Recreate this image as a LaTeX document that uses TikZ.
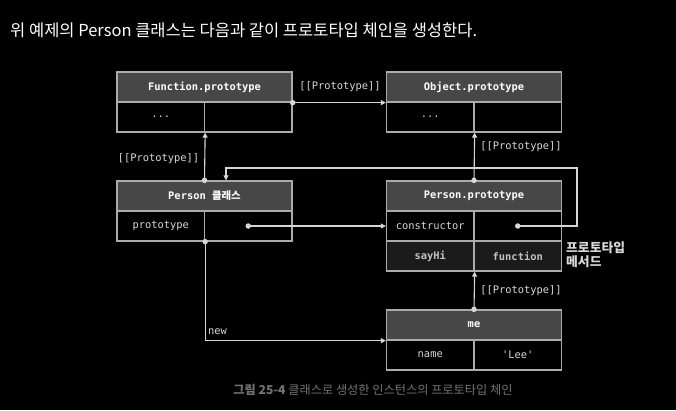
\documentclass[tikz,border=0pt]{standalone}
\usepackage{fontspec}
\usetikzlibrary{arrows.meta}
\newfontfamily\kr{Noto Sans CJK KR}
\newfontfamily\monofam{DejaVu Sans Mono}
\definecolor{hdrfill}{HTML}{474747}
\definecolor{boxline}{HTML}{ABABAB}
\definecolor{connline}{HTML}{D6D6D6}
\definecolor{celltext}{HTML}{D8D8D8}
\definecolor{methfill}{HTML}{1B1B1B}
\definecolor{methtext}{HTML}{C4C4C4}
\definecolor{captext}{HTML}{727272}
\newcommand{\mono}{\monofam\fontsize{10.4}{12}\selectfont}
\newcommand{\monob}{\monofam\bfseries\fontsize{10.4}{12}\selectfont}
\tikzset{
  hdr/.style={draw=boxline, fill=hdrfill, line width=1.3pt, minimum width=175pt, minimum height=30pt, inner sep=0pt, text=white, font=\monob},
  cell/.style={draw=boxline, line width=1.3pt, minimum width=87.5pt, minimum height=30pt, inner sep=0pt, text=celltext, font=\mono},
  mcell/.style={cell, fill=methfill, text=methtext, font=\monob},
  conn/.style={draw=connline, line width=1.1pt},
  arr/.style={conn, -{Triangle[length=5pt,width=5pt]}},
  dotn/.style={circle, fill=connline, inner sep=0pt, minimum size=5.5pt},
  lbl/.style={text=celltext, font=\mono, inner sep=0pt},
}
\begin{document}
\begin{tikzpicture}[x=1pt,y=-1pt]
\fill[black] (0,0) rectangle (676,410);
\useasboundingbox (0,0) rectangle (676,410);
% title
\node[anchor=west, text=white, inner sep=0pt, font=\kr\fontsize{16.5}{19}\selectfont] (title) at (10,30) {위 예제의 Person 클래스는 다음과 같이 프로토타입 체인을 생성한다.};
% Function.prototype
\node[hdr] (fph) at (204.5,87) {Function.prototype};
\node[cell] (fpL) at (160.75,117) {...};
\node[cell] (fpR) at (248.25,117) {};
% Object.prototype
\node[hdr] (oph) at (474,87) {Object.prototype};
\node[cell] (opL) at (430.25,117) {...};
\node[cell] (opR) at (517.75,117) {};
% Person class
\node[hdr] (pch) at (204.5,196) {Person {\kr\bfseries 클래스}};
\node[cell] (pcL) at (160.75,226) {prototype};
\node[cell] (pcR) at (248.25,226) {};
% Person.prototype
\node[hdr] (pph) at (474,196) {Person.prototype};
\node[cell] (ppL1) at (430.25,226) {constructor};
\node[cell] (ppR1) at (517.75,226) {};
\node[mcell] (ppL2) at (430.25,256) {sayHi};
\node[mcell] (ppR2) at (517.75,256) {function};
% me
\node[hdr] (meh) at (474,325) {me};
\node[cell] (meL) at (430.25,355) {name};
\node[cell] (meR) at (517.75,355) {'Lee'};
% method label
\node[anchor=north west, align=left, inner sep=0pt, text=celltext, font=\kr\bfseries\fontsize{12.8}{14}\selectfont] (methlbl) at (566,242) {프로토타입\\메서드};
% connectors
\draw[arr] (fph.south east) -- (oph.south west);
\node[dotn] (d1) at (fph.south east) {};
\node[lbl, anchor=center] (l1) at (340,87) {[[Prototype]]};

\draw[arr] (pch.north) -- (fpL.south east);
\node[dotn] (d2) at (pch.north) {};
\node[lbl] (l2) at (158.5,158.5) {[[Prototype]]};

\draw[arr] (pph.north) -- (opL.south east);
\node[dotn] (d3) at (pph.north) {};
\node[lbl] (l3) at (521,147) {[[Prototype]]};

\draw[arr] (meh.north) -- (ppL2.south east);
\node[dotn] (d4) at (meh.north) {};
\node[lbl] (l4) at (521,291) {[[Prototype]]};

\draw[arr] (pcR.center) -- (ppL1.west);
\node[dotn] (d5) at (pcR.center) {};

\coordinate (c1) at (577,168);
\coordinate (c2) at ([xshift=21.5pt]pch.north);
\draw[arr] (ppR1.center) -| (c1) -| (c2);
\node[dotn] (d6) at (ppR1.center) {};

\draw[arr] (pcL.south east) |- (meh.south west);
\node[dotn] (d7) at (pcL.south east) {};
\node[lbl, anchor=west] (l5) at (208,331.5) {new};
% caption
\node[text=captext, inner sep=0pt, font=\kr\fontsize{12.2}{14}\selectfont] (cap) at (373,390) {{\bfseries 그림 25-4} 클래스로 생성한 인스턴스의 프로토타입 체인};
\end{tikzpicture}
\end{document}
